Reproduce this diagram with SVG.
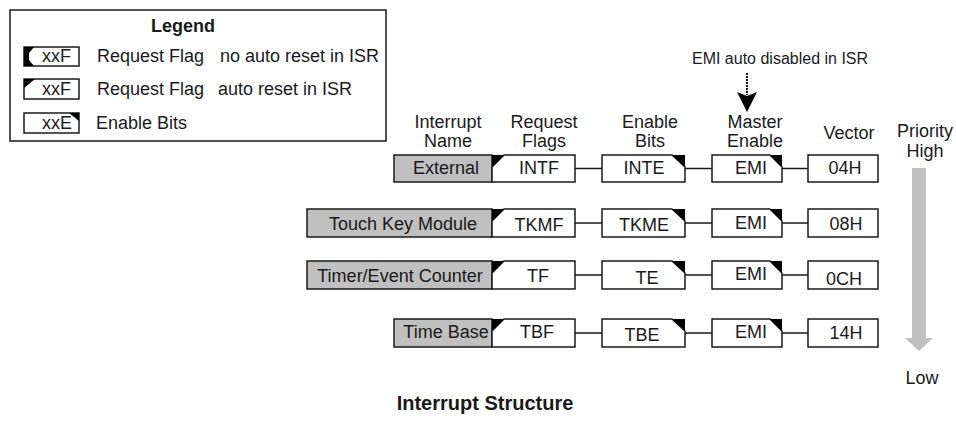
<svg xmlns="http://www.w3.org/2000/svg" width="956" height="429" viewBox="0 0 956 429">
<style>
text{font-family:"Liberation Sans",Arial,sans-serif;font-size:18px;fill:#1a1a1a}
.b{font-weight:bold}
.m{text-anchor:middle}
.sm{font-size:16px}
.box{fill:#fff;stroke:#1a1a1a;stroke-width:1.5}
.name{fill:#c0c0c0;stroke:#1a1a1a;stroke-width:1.5}
.blk{fill:#000;stroke:none}
.con{stroke:#1a1a1a;stroke-width:1.5;fill:none}
</style>
<g id="legend">
<rect x="10" y="10" width="376" height="131" fill="#fff" stroke="#1a1a1a" stroke-width="1.5"/>
<text class="b m" x="183" y="32">Legend</text>
<rect class="box" x="24" y="47" width="55" height="19"/>
<polygon class="blk" points="24,47 34,47 29,53 29,60 34,66 24,66"/>
<text x="42" y="62">xxF</text>
<text x="97" y="62">Request Flag</text>
<text x="220" y="62">no auto reset in ISR</text>
<rect class="box" x="24" y="79" width="55" height="20"/>
<polygon class="blk" points="24,79 35,79 24,88"/>
<text x="42" y="95">xxF</text>
<text x="97" y="95">Request Flag</text>
<text x="218" y="95">auto reset in ISR</text>
<rect class="box" x="24" y="113" width="55" height="20"/>
<polygon class="blk" points="69,113 79,113 79,121"/>
<text x="42" y="129">xxE</text>
<text x="96" y="129">Enable Bits</text>
</g>
<g id="headers">
<text class="m" x="448" y="128">Interrupt</text>
<text class="m" x="448" y="147">Name</text>
<text class="m" x="544" y="128">Request</text>
<text class="m" x="544" y="147">Flags</text>
<text class="m" x="650" y="128">Enable</text>
<text class="m" x="650" y="147">Bits</text>
<text class="m" x="755" y="128">Master</text>
<text class="m" x="755" y="147">Enable</text>
<text class="m" x="849" y="139">Vector</text>
<text class="m" x="925" y="137">Priority</text>
<text class="m" x="925" y="157">High</text>
<text class="m" x="922" y="384">Low</text>
<text class="m sm" x="780" y="64">EMI auto disabled in ISR</text>
</g>
<g id="emi-note-arrow">
<line x1="747" y1="73" x2="747" y2="95" stroke="#1a1a1a" stroke-width="2" stroke-dasharray="2,1"/>
<polygon class="blk" points="737,92 747,96 757,92 747,112"/>
</g>
<g id="priority-arrow">
<rect x="912" y="168" width="14" height="172" fill="#c0c0c0"/>
<polygon points="905,338 933,338 919,351" fill="#c0c0c0"/>
</g>
<g id="connectors">
<line class="con" x1="575" y1="168.5" x2="602" y2="168.5"/>
<line class="con" x1="685" y1="168.5" x2="712" y2="168.5"/>
<line class="con" x1="782" y1="168.5" x2="808" y2="168.5"/>
<line class="con" x1="575" y1="223" x2="602" y2="223"/>
<line class="con" x1="685" y1="223" x2="712" y2="223"/>
<line class="con" x1="782" y1="223" x2="808" y2="223"/>
<line class="con" x1="575" y1="275" x2="602" y2="275"/>
<line class="con" x1="685" y1="275" x2="712" y2="275"/>
<line class="con" x1="782" y1="275" x2="808" y2="275"/>
<line class="con" x1="575" y1="333" x2="602" y2="333"/>
<line class="con" x1="685" y1="333" x2="712" y2="333"/>
<line class="con" x1="782" y1="333" x2="808" y2="333"/>
</g>
<g id="row-external">
<rect class="name" x="394" y="155" width="98" height="27"/>
<text class="m" x="446" y="174">External</text>
<path class="box" d="M504,155H575V182H492V167Z"/>
<polygon class="blk" points="492,155 504,155 492,167"/>
<text class="m" x="539" y="174">INTF</text>
<path class="box" d="M602,155H672L685,167V182H602Z"/>
<polygon class="blk" points="672,155 685,155 685,167"/>
<text class="m" x="644" y="174">INTE</text>
<path class="box" d="M712,155H770L782,167V182H712Z"/>
<polygon class="blk" points="770,155 782,155 782,167"/>
<text class="m" x="751" y="174">EMI</text>
<rect class="box" x="808" y="155" width="70" height="27"/>
<text class="m" x="845" y="174">04H</text>
</g>
<g id="row-touchkey">
<rect class="name" x="307" y="209" width="185" height="28"/>
<text class="m" x="403" y="230">Touch Key Module</text>
<path class="box" d="M504,209H575V237H492V221Z"/>
<polygon class="blk" points="492,209 504,209 492,221"/>
<text class="m" x="539" y="231">TKMF</text>
<path class="box" d="M602,209H672L685,221V237H602Z"/>
<polygon class="blk" points="672,209 685,209 685,221"/>
<text class="m" x="644" y="231">TKME</text>
<path class="box" d="M712,209H770L782,221V237H712Z"/>
<polygon class="blk" points="770,209 782,209 782,221"/>
<text class="m" x="751" y="229">EMI</text>
<rect class="box" x="808" y="209" width="70" height="28"/>
<text class="m" x="846" y="230">08H</text>
</g>
<g id="row-timer">
<rect class="name" x="307" y="261" width="185" height="28"/>
<text class="m" x="400" y="282">Timer/Event Counter</text>
<path class="box" d="M504,261H575V289H492V273Z"/>
<polygon class="blk" points="492,261 504,261 492,273"/>
<text class="m" x="538" y="282">TF</text>
<path class="box" d="M602,261H672L685,273V289H602Z"/>
<polygon class="blk" points="672,261 685,261 685,273"/>
<text class="m" x="647" y="284">TE</text>
<path class="box" d="M712,261H770L782,273V289H712Z"/>
<polygon class="blk" points="770,261 782,261 782,273"/>
<text class="m" x="751" y="280">EMI</text>
<rect class="box" x="808" y="261" width="70" height="28"/>
<text class="m" x="844" y="285">0CH</text>
</g>
<g id="row-timebase">
<rect class="name" x="394" y="319" width="98" height="28"/>
<text class="m" x="446" y="338">Time Base</text>
<path class="box" d="M504,319H575V347H492V331Z"/>
<polygon class="blk" points="492,319 504,319 492,331"/>
<text class="m" x="537" y="338">TBF</text>
<path class="box" d="M602,319H672L685,331V347H602Z"/>
<polygon class="blk" points="672,319 685,319 685,331"/>
<text class="m" x="642" y="341">TBE</text>
<path class="box" d="M712,319H770L782,331V347H712Z"/>
<polygon class="blk" points="770,319 782,319 782,331"/>
<text class="m" x="751" y="338">EMI</text>
<rect class="box" x="808" y="319" width="70" height="28"/>
<text class="m" x="846" y="339">14H</text>
</g>
<g id="title">
<text class="b m" x="485" y="410" style="font-size:20px">Interrupt Structure</text>
</g>
</svg>
